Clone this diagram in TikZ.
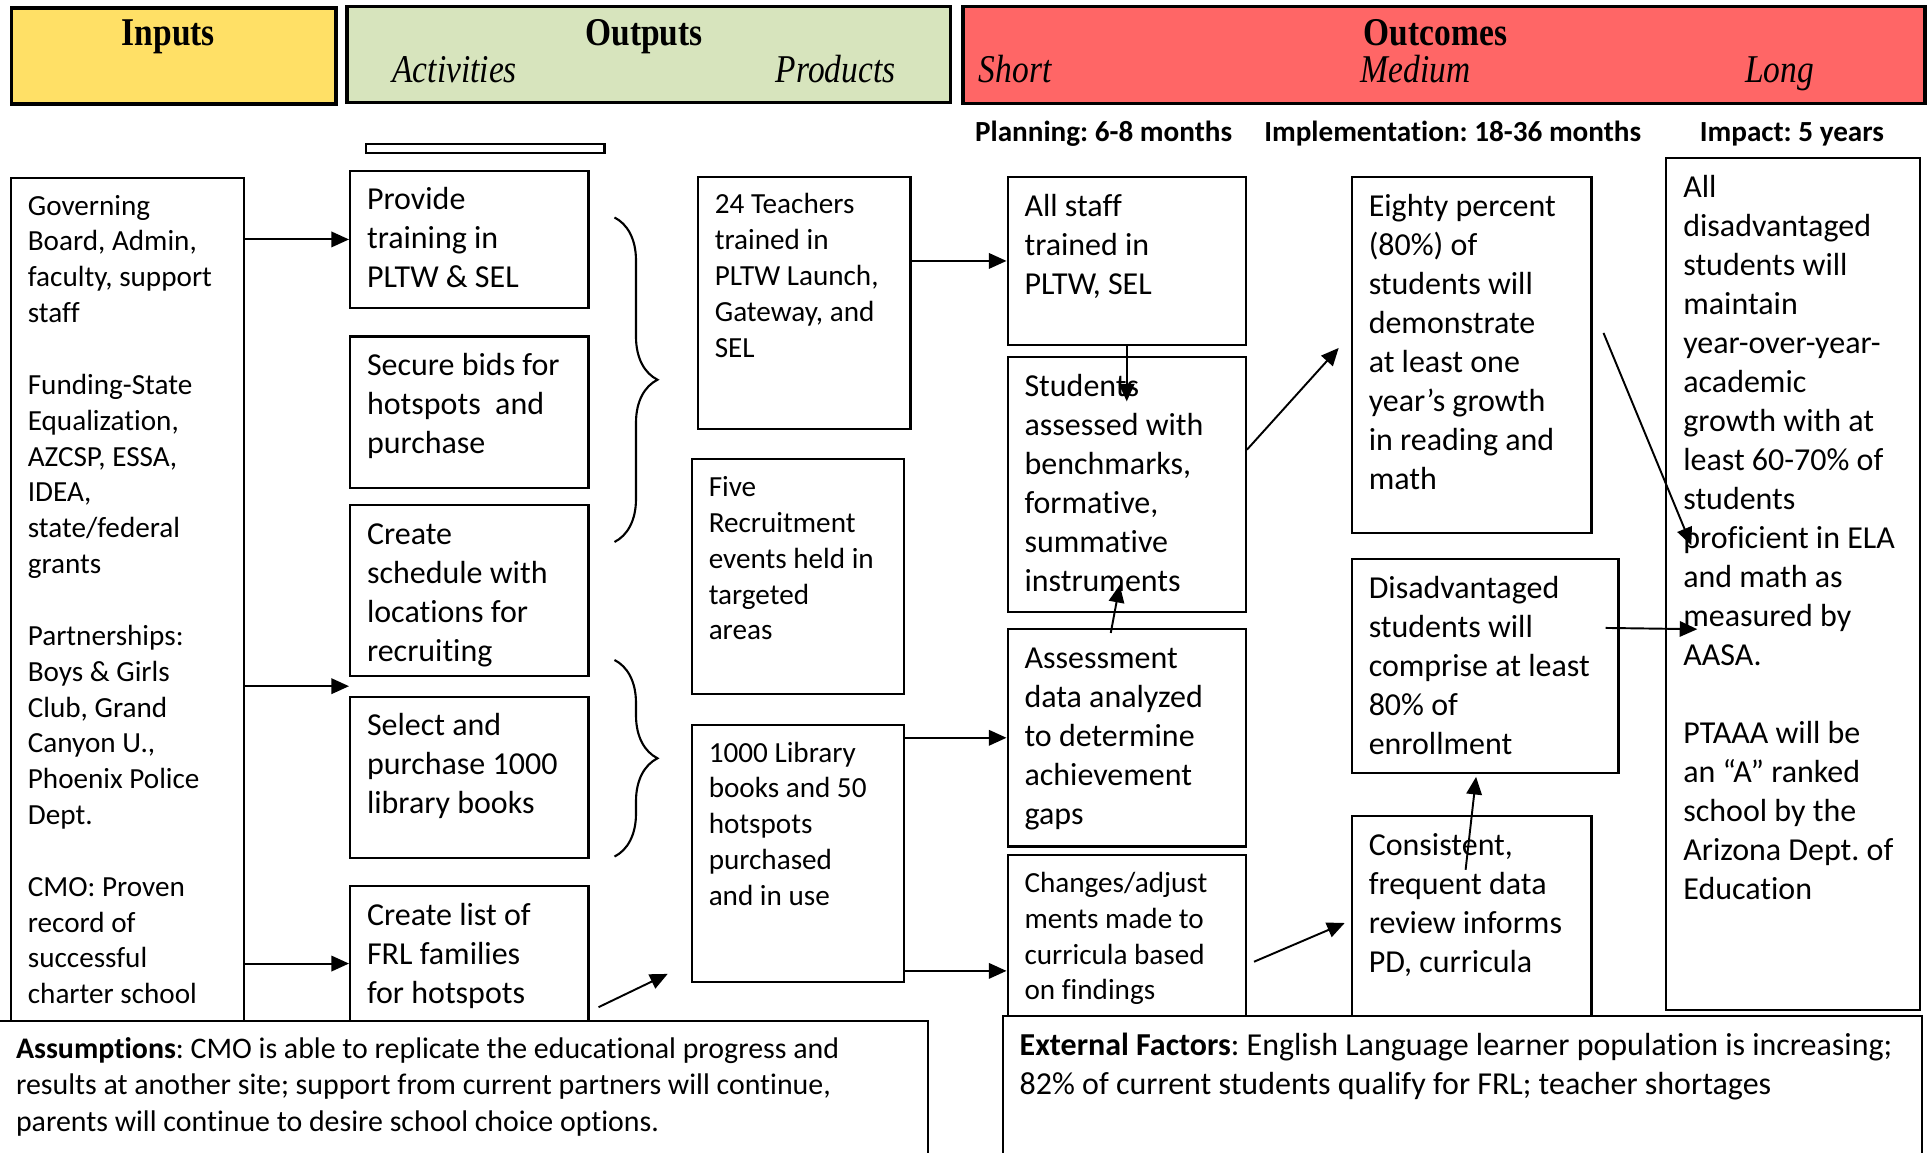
\documentclass[tikz,border=0pt]{standalone}
\usepackage{fontspec}
\setmainfont{Carlito}[Ligatures={TeX,NoCommon,NoContextual},Contextuals=NoAlternate]
\newfontfamily\headfont[FakeStretch=0.85]{Liberation Serif}
\usetikzlibrary{arrows.meta,positioning,calc,decorations.pathreplacing}
\definecolor{lmyellow}{RGB}{255,224,102}
\definecolor{lmgreen}{RGB}{215,228,189}
\definecolor{lmred}{RGB}{255,102,102}
\frenchspacing
% box text: width, height, lines
\newcommand{\cell}[3]{\parbox[t][\dimexpr#2-0.24cm\relax][t]{#1}{\raggedright\leftskip=0.17cm\strut#3}}

\begin{document}
\begin{tikzpicture}[every node/.style={inner sep=0pt},
      box/.style={draw,line width=0.6pt,anchor=north west,inner xsep=0pt,inner ysep=0.12cm,fill=white},
      sm/.style={font=\fontsize{8.3}{10.2}\selectfont},
      md/.style={font=\fontsize{9.1}{11.1}\selectfont},
      head/.style={draw,line width=1pt,anchor=north west},
      title/.style={anchor=base,font=\headfont\bfseries\fontsize{11.2}{13}\selectfont},
      phase/.style={anchor=base,font=\headfont\itshape\fontsize{11.2}{13}\selectfont},
      span/.style={anchor=base,font=\bfseries\fontsize{8.3}{10.1}\selectfont},
      arr/.style={-{Triangle[length=5pt,width=4.4pt]},line width=0.55pt},
      brc/.style={decorate,decoration={brace,amplitude=0.43cm},line width=0.6pt}]
    \useasboundingbox (0,0) rectangle (19.27,-11.53);
    % Header row
    \node[head,fill=lmyellow,minimum width=3.245cm,minimum height=0.959cm] (hin)  at (0.098,-0.061) {};
    \node[head,fill=lmgreen, minimum width=6.035cm,minimum height=0.959cm] (hout) at (3.453,-0.049) {};
    \node[head,fill=lmred,   minimum width=9.623cm,minimum height=0.971cm] (hoc)  at (9.611,-0.049) {};
    \node[title] (tin)  at (1.684,-0.455)  {Inputs};
    \node[title] (tout) at (6.440,-0.455)  {Outputs};
    \node[phase] (tact) at (4.547,-0.830)  {Activities};
    \node[phase] (tpro) at (8.357,-0.830)  {Products};
    \node[title] (toc)  at (14.355,-0.455) {Outcomes};
    \node[phase] (tsh)  at (10.152,-0.830) {Short};
    \node[phase] (tme)  at (14.158,-0.830) {Medium};
    \node[phase] (tlo)  at (17.796,-0.830) {Long};
    % Time spans
    \node[span] (plan) at (11.036,-1.413) {Planning: 6-8 months};
    \node[span] (impl) at (14.527,-1.413) {Implementation: 18-36 months};
    \node[span] (imp)  at (17.919,-1.413) {Impact: 5 years};
    % Inputs
    \node[box,sm] (gov) at (0.098,-1.770) {\cell{2.335cm}{8.431cm}{Governing\\Board, Admin,\\faculty, support\\staff\\[10.2pt]Funding-State\\Equalization,\\AZCSP, ESSA,\\IDEA,\\state/federal\\grants\\[10.2pt]Partnerships:\\Boys \& Girls\\Club, Grand\\Canyon U.,\\Phoenix Police\\Dept.\\[10.2pt]CMO: Proven\\record of\\successful\\charter school}};
    % Activities
    \node[draw,line width=0.6pt,anchor=north west,minimum width=2.384cm,minimum height=0.098cm] (blank) at (3.650,-1.426) {};
    \node[box,md] (train) at (3.490,-1.696) {\cell{2.384cm}{1.376cm}{Provide\\training in\\PLTW \& SEL}};
    \node[box,md] (bids)  at (3.490,-3.355) {\cell{2.384cm}{1.512cm}{Secure bids for\\hotspots\ \ and\\purchase}};
    \node[box,md] (sched) at (3.490,-5.039) {\cell{2.384cm}{1.708cm}{Create\\schedule with\\locations for\\recruiting}};
    \node[box,md] (books) at (3.490,-6.956) {\cell{2.384cm}{1.610cm}{Select and\\purchase 1000\\library books}};
    \node[box,md] (frl)   at (3.490,-8.849) {\cell{2.384cm}{1.352cm}{Create list of\\FRL families\\for hotspots}};
    \draw[brc] (6.145,-2.175) -- (6.145,-5.420);
    \draw[brc] (6.145,-6.600) -- (6.145,-8.566);
    % Products
    \node[box,sm] (teach)   at (6.968,-1.757) {\cell{2.126cm}{2.519cm}{24 Teachers\\trained in\\PLTW Launch,\\Gateway, and\\SEL}};
    \node[box,sm] (recruit) at (6.907,-4.584) {\cell{2.126cm}{2.347cm}{Five\\Recruitment\\events held in\\targeted\\areas}};
    \node[box,sm] (lib)     at (6.907,-7.239) {\cell{2.126cm}{2.569cm}{1000 Library\\books and 50\\hotspots\\purchased\\and in use}};
    % Short outcomes
    \node[box,md] (staff)  at (10.065,-1.757) {\cell{2.384cm}{1.684cm}{All staff\\trained in\\PLTW, SEL}};
    \node[box,md] (assess) at (10.065,-3.564) {\cell{2.384cm}{2.544cm}{Students\\assessed with\\benchmarks,\\formative,\\summative\\instruments}};
    \node[box,md] (gaps)   at (10.065,-6.280) {\cell{2.384cm}{2.175cm}{Assessment\\data analyzed\\to determine\\achievement\\gaps}};
    \node[box,sm] (change) at (10.065,-8.542) {\cell{2.384cm}{1.610cm}{Changes/adjust\\ments made to\\curricula based\\on findings}};
    % Medium outcomes
    \node[box,md] (eighty)  at (13.507,-1.757) {\cell{2.397cm}{3.564cm}{Eighty percent\\(80\%) of\\students will\\demonstrate\\at least one\\year's growth\\in reading and\\math}};
    \node[box,md] (disadv)  at (13.507,-5.580) {\cell{2.667cm}{2.138cm}{Disadvantaged\\students will\\comprise at least\\80\% of\\enrollment}};
    \node[box,md] (consist) at (13.507,-8.148) {\cell{2.397cm}{2.003cm}{Consistent,\\frequent data\\review informs\\PD, curricula}};
    % Long outcomes
    \node[box,md] (longbox) at (16.653,-1.573) {\cell{2.532cm}{8.517cm}{All\\disadvantaged\\students will\\maintain\\year-over-year-\\academic\\growth with at\\least 60-70\% of\\students\\proficient in ELA\\and math as\\measured by\\AASA.\\[11.1pt]PTAAA will be\\an ``A'' ranked\\school by the\\Arizona Dept. of\\Education}};
    % Arrows
    \coordinate (gapA) at ($(sched.south west)!0.5!(books.north west)$);
    \coordinate (frlin) at ([yshift=-0.1cm]frl.west);
    \coordinate (libout) at ([yshift=0.12cm]lib.south east);
    \draw[arr] (gov.east |- train.west) -- (train.west);
    \draw[arr] (gov.east |- gapA) -- (gapA);
    \draw[arr] (gov.east |- frlin) -- (frlin);
    \draw[arr] ([xshift=0.09cm,yshift=0.15cm]frl.south east) -- ([xshift=-0.23cm,yshift=0.09cm]lib.south west);
    \draw[arr] (teach.east |- staff.west) -- (staff.west);
    \draw[arr] (lib.east |- gaps.west) -- (gaps.west);
    \draw[arr] (libout) -- (change.west |- libout);
    \draw[arr] (staff.south) -- ([yshift=-0.45cm]assess.north);
    \draw[arr] ([xshift=-0.16cm,yshift=-0.05cm]gaps.north) -- ([xshift=-0.07cm,yshift=0.28cm]assess.south);
    \draw[arr] ([yshift=0.35cm]assess.east) -- ([xshift=-0.12cm,yshift=0.07cm]eighty.west);
    \draw[arr] ([xshift=0.07cm,yshift=-0.26cm]change.east) -- ([xshift=-0.06cm,yshift=-0.07cm]consist.west);
    \draw[arr] ([xshift=-0.06cm,yshift=-0.55cm]consist.north) -- ([xshift=-0.09cm,yshift=-0.03cm]disadv.south);
    \draw[arr] ([xshift=0.11cm,yshift=0.22cm]eighty.east) -- ([xshift=0.26cm,yshift=0.39cm]longbox.west);
    \draw[arr] ([xshift=-0.14cm,yshift=0.38cm]disadv.east) -- ([xshift=0.32cm,yshift=-0.45cm]longbox.west);
    % Assumptions and external factors
    \node[box,font=\fontsize{8.5}{10.35}\selectfont] (assume) at (-0.02,-10.201) {\cell{9.29cm}{1.6cm}{\textbf{Assumptions}: CMO is able to replicate the educational progress and\\results at another site; support from current partners will continue,\\parents will continue to desire school choice options.}};
    \node[box,md] (ext) at (10.016,-10.152) {\cell{9.193cm}{1.6cm}{\textbf{External Factors}: English Language learner population is increasing;\\82\% of current students qualify for FRL; teacher shortages}};
  \end{tikzpicture}
\end{document}
